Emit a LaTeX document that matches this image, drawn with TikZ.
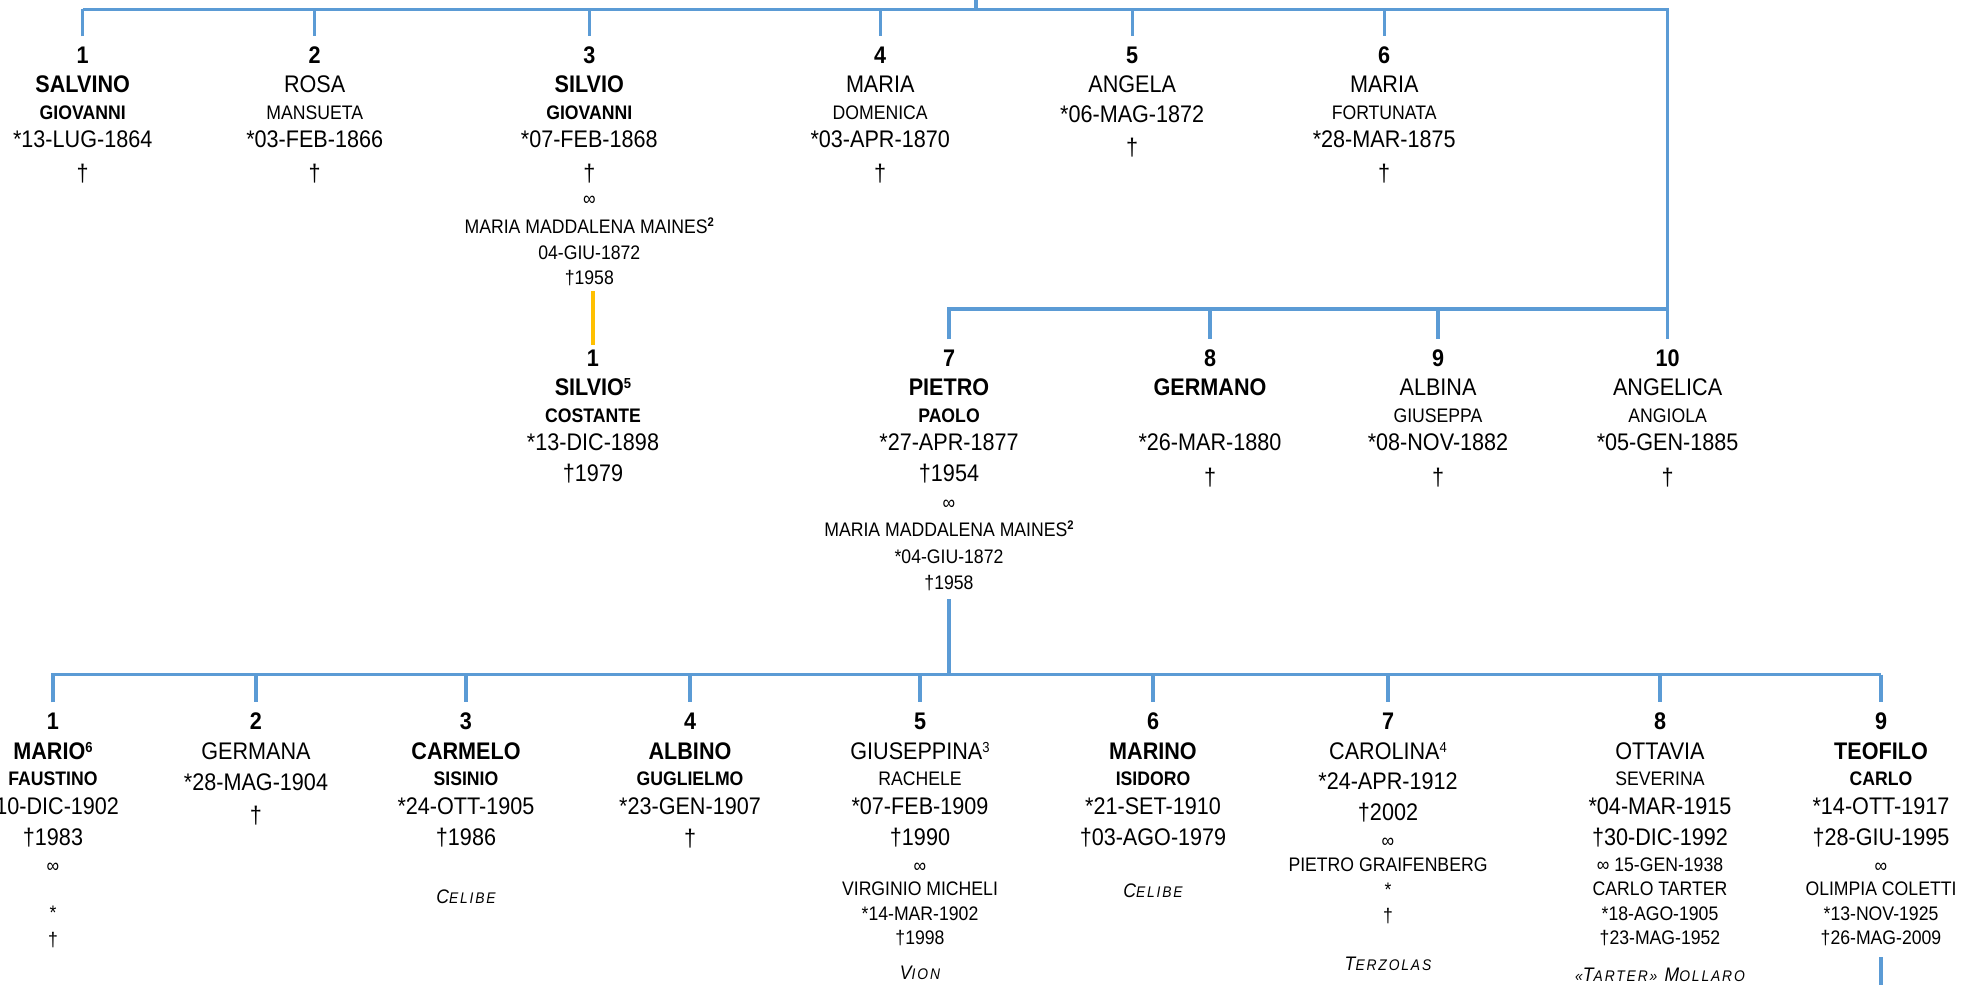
\documentclass[tikz,border=0pt]{standalone}
\usepackage{fontspec}
\setmainfont{Liberation Sans}[FakeStretch=0.9]
\definecolor{lineblue}{HTML}{5B9BD5}
\definecolor{lineorange}{HTML}{FFC000}
\newcommand\fbig{\fontsize{24}{26}\selectfont}
\newcommand\fsm{\fontsize{19.6}{22}\selectfont}
\newcommand\fsc{\fontsize{15.4}{17}\selectfont}
\newcommand\supr[1]{\raisebox{6.9pt}{\fontsize{14.5}{14}\selectfont #1}}
\newcommand\supsm[1]{\raisebox{6.2pt}{\fontsize{12.5}{12}\selectfont\bfseries #1}}
\newcommand\scit[2]{{\itshape\addfontfeatures{LetterSpace=12}#1{\fsc #2}}}
\tikzset{
 bus/.style={draw=lineblue, line width=3.2pt},
 kin/.style={draw=lineorange, line width=3.2pt},
 txt/.style={inner sep=0pt, outer sep=0pt, anchor=center, text depth=0pt},
 num/.style={txt, font=\fbig\bfseries, text height=17.2pt},
 big/.style={txt, font=\fbig, text height=17.2pt},
 bigb/.style={txt, font=\fbig\bfseries, text height=17.2pt},
 sm/.style={txt, font=\fsm, text height=14pt},
 smb/.style={txt, font=\fsm\bfseries, text height=14pt},
 note/.style={txt, font=\fsm, text height=14pt},
}
\begin{document}
\begin{tikzpicture}[x=1pt,y=-1pt]
\useasboundingbox (0,0) rectangle (1966,985);
% ---------- row 1 ----------
\node[num] (a1) at (82.7,55) {1};
\node[bigb] (a1a) at (82.7,84) {SALVINO};
\node[smb] (a1b) at (82.7,112) {GIOVANNI};
\node[big] (a1c) at (82.7,139) {*13-LUG-1864};
\node[big] (a1d) at (82.7,173) {†};

\node[num] (a2) at (314.7,55) {2};
\node[big] (a2a) at (314.7,84) {ROSA};
\node[sm] (a2b) at (314.7,112) {MANSUETA};
\node[big] (a2c) at (314.7,139) {*03-FEB-1866};
\node[big] (a2d) at (314.7,173) {†};

\node[num] (a3) at (589.3,55) {3};
\node[bigb] (a3a) at (589.3,84) {SILVIO};
\node[smb] (a3b) at (589.3,112) {GIOVANNI};
\node[big] (a3c) at (589.3,139) {*07-FEB-1868};
\node[big] (a3d) at (589.3,173) {†};
\node[sm] (a3e) at (589.3,198) {∞};
\node[sm] (a3f) at (589.3,226) {MARIA MADDALENA MAINES\supsm{2}};
\node[sm] (a3g) at (589.3,252) {04-GIU-1872};
\node[sm] (a3s) at (589.3,277) {†1958};

\node[num] (a4) at (880.2,55) {4};
\node[big] (a4a) at (880.2,84) {MARIA};
\node[sm] (a4b) at (880.2,112) {DOMENICA};
\node[big] (a4c) at (880.2,139) {*03-APR-1870};
\node[big] (a4d) at (880.2,173) {†};

\node[num] (a5) at (1132.2,55) {5};
\node[big] (a5a) at (1132.2,84) {ANGELA};
\node[big] (a5c) at (1132.2,114) {*06-MAG-1872};
\node[big] (a5d) at (1132.2,147) {†};

\node[num] (a6) at (1384.2,55) {6};
\node[big] (a6a) at (1384.2,84) {MARIA};
\node[sm] (a6b) at (1384.2,112) {FORTUNATA};
\node[big] (a6c) at (1384.2,139) {*28-MAR-1875};
\node[big] (a6d) at (1384.2,173) {†};

% ---------- row 2 ----------
\node[num] (b1) at (593,358) {1};
\node[bigb] (b1a) at (593,387) {SILVIO\supr{5}};
\node[smb] (b1b) at (593,415) {COSTANTE};
\node[big] (b1c) at (593,442) {*13-DIC-1898};
\node[big] (b1d) at (593,473) {†1979};

\node[num] (b7) at (949,358) {7};
\node[bigb] (b7a) at (949,387) {PIETRO};
\node[smb] (b7b) at (949,415) {PAOLO};
\node[big] (b7c) at (949,442) {*27-APR-1877};
\node[big] (b7d) at (949,473) {†1954};
\node[sm] (b7e) at (949,502) {∞};
\node[sm] (b7f) at (949,529) {MARIA MADDALENA MAINES\supsm{2}};
\node[sm] (b7g) at (949,556) {*04-GIU-1872};
\node[sm] (b7s) at (949,582) {†1958};

\node[num] (b8) at (1210,358) {8};
\node[bigb] (b8a) at (1210,387) {GERMANO};
\node[big] (b8c) at (1210,442) {*26-MAR-1880};
\node[big] (b8d) at (1210,477) {†};

\node[num] (b9) at (1438,358) {9};
\node[big] (b9a) at (1438,387) {ALBINA};
\node[sm] (b9b) at (1438,415) {GIUSEPPA};
\node[big] (b9c) at (1438,442) {*08-NOV-1882};
\node[big] (b9d) at (1438,477) {†};

\node[num] (b10) at (1667.6,358) {10};
\node[big] (b10a) at (1667.6,387) {ANGELICA};
\node[sm] (b10b) at (1667.6,415) {ANGIOLA};
\node[big] (b10c) at (1667.6,442) {*05-GEN-1885};
\node[big] (b10d) at (1667.6,477) {†};

% ---------- row 3 ----------
\node[num] (c1) at (53,721) {1};
\node[bigb] (c1a) at (53,751) {MARIO\supr{6}};
\node[smb] (c1b) at (53,778) {FAUSTINO};
\node[big] (c1c) at (53,806) {*10-DIC-1902};
\node[big] (c1d) at (53,837) {†1983};
\node[sm] (c1e) at (53,865) {∞};
\node[sm] (c1f) at (53,912) {*};
\node[sm] (c1g) at (53,939) {†};

\node[num] (c2) at (256,721) {2};
\node[big] (c2a) at (256,751) {GERMANA};
\node[big] (c2c) at (256,782) {*28-MAG-1904};
\node[big] (c2d) at (256,815) {†};

\node[num] (c3) at (466,721) {3};
\node[bigb] (c3a) at (466,751) {CARMELO};
\node[smb] (c3b) at (466,778) {SISINIO};
\node[big] (c3c) at (466,806) {*24-OTT-1905};
\node[big] (c3d) at (466,837) {†1986};
\node[note] (c3e) at (466,896) {\scit{C}{ELIBE}};

\node[num] (c4) at (690,721) {4};
\node[bigb] (c4a) at (690,751) {ALBINO};
\node[smb] (c4b) at (690,778) {GUGLIELMO};
\node[big] (c4c) at (690,806) {*23-GEN-1907};
\node[big] (c4d) at (690,838) {†};

\node[num] (c5) at (920,721) {5};
\node[big] (c5a) at (920,751) {GIUSEPPINA\supr{3}};
\node[sm] (c5b) at (920,778) {RACHELE};
\node[big] (c5c) at (920,806) {*07-FEB-1909};
\node[big] (c5d) at (920,837) {†1990};
\node[sm] (c5e) at (920,865) {∞};
\node[sm] (c5f) at (920,888) {VIRGINIO MICHELI};
\node[sm] (c5g) at (920,913) {*14-MAR-1902};
\node[sm] (c5h) at (920,937) {†1998};
\node[note] (c5i) at (920,972) {\scit{V}{ION}};

\node[num] (c6) at (1153,721) {6};
\node[bigb] (c6a) at (1153,751) {MARINO};
\node[smb] (c6b) at (1153,778) {ISIDORO};
\node[big] (c6c) at (1153,806) {*21-SET-1910};
\node[big] (c6d) at (1153,837) {†03-AGO-1979};
\node[note] (c6e) at (1153,890) {\scit{C}{ELIBE}};

\node[num] (c7) at (1388,721) {7};
\node[big] (c7a) at (1388,751) {CAROLINA\supr{4}};
\node[big] (c7c) at (1388,781) {*24-APR-1912};
\node[big] (c7d) at (1388,812) {†2002};
\node[sm] (c7e) at (1388,840) {∞};
\node[sm] (c7f) at (1388,864) {PIETRO GRAIFENBERG};
\node[sm] (c7g) at (1388,889) {*};
\node[sm] (c7h) at (1388,915) {†};
\node[note] (c7i) at (1388,963) {\scit{T}{ERZOLAS}};

\node[num] (c8) at (1660,721) {8};
\node[big] (c8a) at (1660,751) {OTTAVIA};
\node[sm] (c8b) at (1660,778) {SEVERINA};
\node[big] (c8c) at (1660,806) {*04-MAR-1915};
\node[big] (c8d) at (1660,837) {†30-DIC-1992};
\node[sm] (c8e) at (1660,864) {∞ 15-GEN-1938};
\node[sm] (c8f) at (1660,888) {CARLO TARTER};
\node[sm] (c8g) at (1660,913) {*18-AGO-1905};
\node[sm] (c8h) at (1660,937) {†23-MAG-1952};
\node[note] (c8i) at (1660,974) {{\itshape\addfontfeatures{LetterSpace=12}{\fsc «}T{\fsc ARTER}{\fsc »} M{\fsc OLLARO}}};

\node[num] (c9) at (1881,721) {9};
\node[bigb] (c9a) at (1881,751) {TEOFILO};
\node[smb] (c9b) at (1881,778) {CARLO};
\node[big] (c9c) at (1881,806) {*14-OTT-1917};
\node[big] (c9d) at (1881,837) {†28-GIU-1995};
\node[sm] (c9e) at (1881,865) {∞};
\node[sm] (c9f) at (1881,888) {OLIMPIA COLETTI};
\node[sm] (c9g) at (1881,913) {*13-NOV-1925};
\node[sm] (c9s) at (1881,937) {†26-MAG-2009};

% ---------- connectors ----------
\coordinate (root) at (976,0);
\coordinate (top) at (976,9.3);
\coordinate (mid) at (1210,309);
\coordinate (low) at (950,674.5);
\coordinate (tend) at (1881,985);

\draw[bus] (root) -- (top);
\draw[bus, shorten >=10pt] (a1.north |- top) -- (b10.north |- top) -- (b10.north);
\draw[bus, shorten <=10pt] (a1.north) -- (a1.north |- top);
\foreach \n in {a2,a3,a4,a5,a6}
  \draw[bus, shorten >=10pt] (\n.north |- top) -- (\n.north);

\draw[bus, shorten <=10pt] (b7.north) -- (b7.north |- mid) -- (b10.north |- mid);
\foreach \n in {b8,b9}
  \draw[bus, shorten >=10pt] (\n.north |- mid) -- (\n.north);

\draw[kin, shorten <=7pt, shorten >=4.5pt] (b1.north |- a3s.south) -- (b1.north);

\draw[bus, shorten <=10pt] (b7s.south) -- (b7s.south |- low);
\draw[bus, shorten <=10pt] (c1.north) -- (c1.north |- low) -- (c9.north |- low);
\foreach \n in {c2,c3,c4,c5,c6,c7,c8,c9}
  \draw[bus, shorten >=10pt] (\n.north |- low) -- (\n.north);
\draw[bus, shorten <=13pt] (c9s.south) -- (tend);
\end{tikzpicture}
\end{document}
